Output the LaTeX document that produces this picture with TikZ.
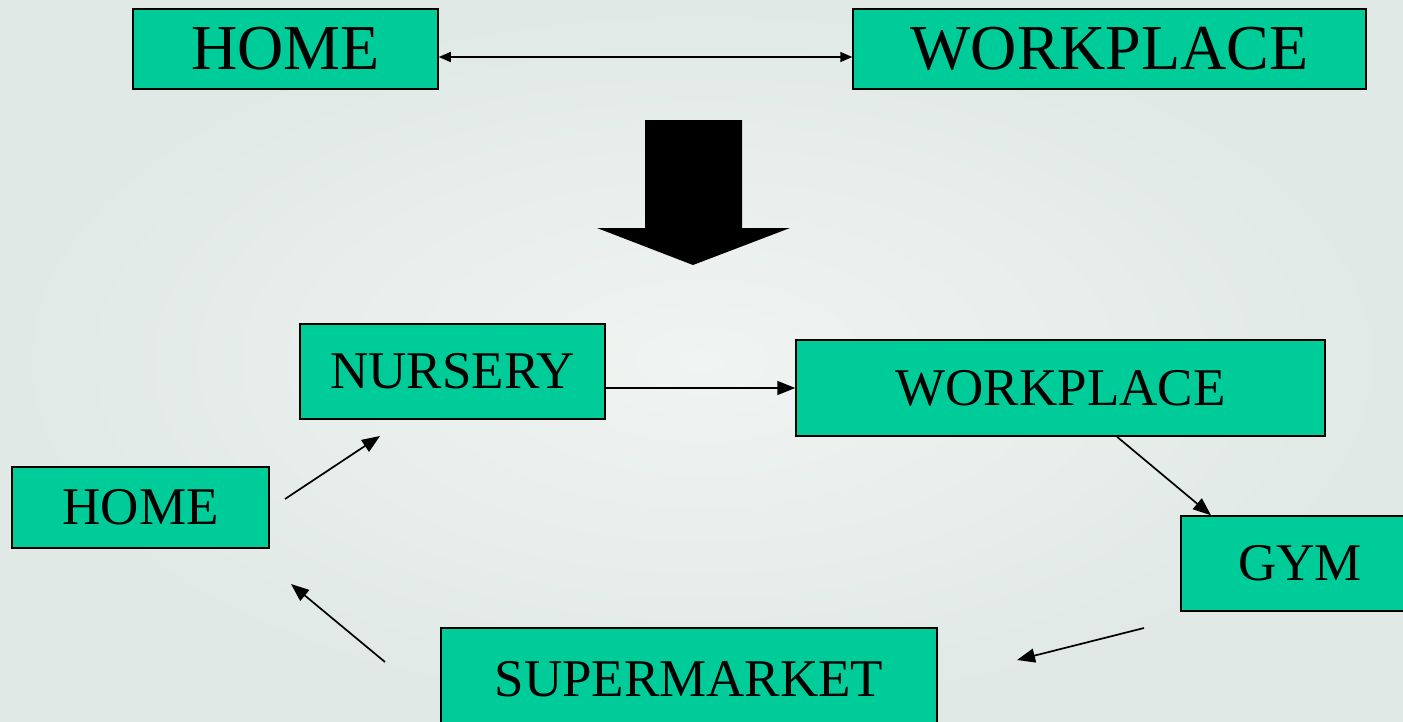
\documentclass[tikz,border=0pt]{standalone}
\usepackage{fontspec}
\setmainfont{Liberation Serif}
\usetikzlibrary{arrows.meta}
\definecolor{boxgreen}{RGB}{0,204,153}
\definecolor{bggray}{RGB}{224,233,230}
\definecolor{bglight}{RGB}{240,244,242}

\begin{document}
\begin{tikzpicture}[
		x=1pt, y=-1pt,
		every node/.style={rectangle, draw, fill=boxgreen, line width=1.5pt, inner sep=0pt},
		big/.style={font=\fontsize{64}{70}\selectfont},
		small/.style={font=\fontsize{53}{60}\selectfont},
		link/.style={line width=1.7pt, -{Triangle[length=18pt, width=14pt]}}
	]
  \clip (0,0) rectangle (1403,721);
  \shade[inner color=bglight, outer color=bggray] (0,0) rectangle (1403,721);
  % before
  \node (home_a) [big, minimum width=305pt, minimum height=80pt] at (285.5,49) {HOME};
  \node (work_a) [big, minimum width=513pt, minimum height=80pt] at (1109.5,49) {WORKPLACE};
  \draw [line width=1.5pt, {Triangle[length=12pt, width=10pt]}-{Triangle[length=12pt, width=10pt]}]
    ([yshift=-8pt]home_a.east) -- ([yshift=-8pt]work_a.west);
  % big arrow
  \fill (645,120) -- (742,120) -- (742,228) -- (790,228) -- (693,265) -- (597,228) -- (645,228) -- cycle;
  % after
  \node (nursery) [small, minimum width=305pt, minimum height=95pt] at (452.5,371.5) {NURSERY};
  \node (work_b) [small, minimum width=529pt, minimum height=96pt] at (1060.5,388) {WORKPLACE};
  \node (home_b) [small, minimum width=257pt, minimum height=81pt] at (140.5,507.5) {HOME};
  \node (gym) [small, minimum width=238pt, minimum height=95pt] at (1300,563.5) {GYM};
  \node (market) [small, minimum width=496pt, minimum height=102pt] at (689,679) {SUPERMARKET};
  \coordinate (h_out) at (285,499);
  \coordinate (n_in) at (380,436);
  \coordinate (g_out) at (1144,628);
  \coordinate (m_in) at (1017,660);
  \coordinate (m_out) at (385,662);
  \coordinate (h_in) at (291,584);
  \draw [link] (h_out) -- (n_in);
  \draw [link] ([yshift=-16.5pt]nursery.east) -- ([yshift=-16.5pt]nursery.east -| work_b.west);
  \draw [link] ([xshift=56.5pt]work_b.south) -- ([xshift=-89pt]gym.north);
  \draw [link] (g_out) -- (m_in);
  \draw [link] (m_out) -- (h_in);
\end{tikzpicture}
\end{document}
